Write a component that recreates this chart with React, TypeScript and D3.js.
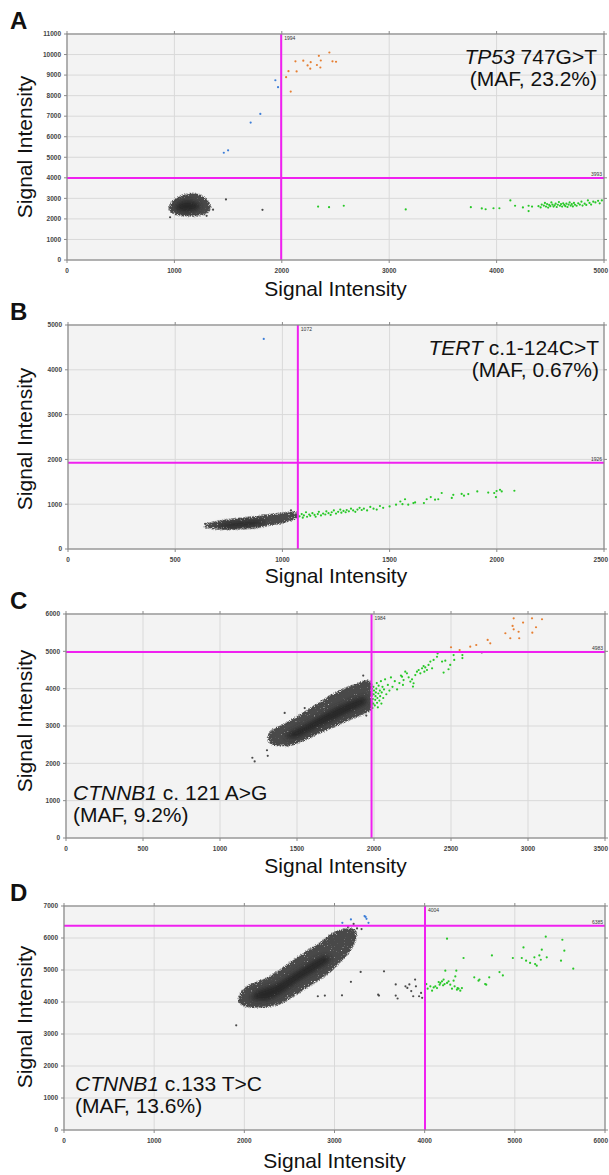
import React from "react";
import * as d3 from "d3";

type Pt = [number, number];

// ---------- Panel A: TP53 747G>T ----------
const aXTicks = [0, 1000, 2000, 3000, 4000, 5000];
const aYTicks = [0, 1000, 2000, 3000, 4000, 5000, 6000, 7000, 8000, 9000, 10000, 11000];
const aCut: Pt = [1994, 3993];
const aBlob: Pt[] = [[945, 2450], [960, 2720], [1005, 2970], [1080, 3170], [1160, 3250], [1235, 3170], [1295, 2990], [1330, 2750], [1340, 2480], [1305, 2270], [1230, 2150], [1140, 2120], [1050, 2160], [980, 2270]];
const aCore: Pt[] = [[1000, 2550], [1040, 2780], [1110, 2900], [1190, 2840], [1240, 2650], [1210, 2430], [1120, 2330], [1040, 2390]];
const aGray: Pt[] = [[960, 2080], [1480, 2950], [1820, 2440], [1360, 2450], [1300, 2150]];
const aBlue: Pt[] = [[1460, 5220], [1500, 5340], [1710, 6690], [1800, 7110], [1940, 8750], [1965, 8410]];
const aOrange: Pt[] = [[2040, 8900], [2062, 9190], [2083, 8200], [2127, 9670], [2138, 9180], [2200, 9700], [2240, 9470], [2269, 9630], [2265, 9310], [2345, 9940], [2327, 9490], [2363, 9710], [2359, 9370], [2443, 10100], [2472, 9670], [2505, 9650]];
const aGreen: Pt[] = [[2338, 2600], [2440, 2570], [2577, 2640], [3154, 2460], [3760, 2570], [3862, 2510], [3898, 2470], [3971, 2520], [4026, 2520], [4128, 2900], [4172, 2640], [4245, 2560], [4298, 2640], [4298, 2380], [4330, 2600],
  [4390, 2620], [4410, 2560], [4420, 2700], [4440, 2650], [4450, 2780], [4460, 2600], [4470, 2720], [4480, 2550], [4490, 2680], [4500, 2620], [4510, 2800], [4520, 2700], [4530, 2600], [4540, 2660], [4550, 2740], [4560, 2580], [4570, 2690], [4580, 2820], [4590, 2640], [4600, 2720], [4610, 2600], [4620, 2760], [4630, 2680], [4640, 2620], [4650, 2740], [4660, 2580], [4670, 2700], [4680, 2800], [4690, 2650], [4700, 2720], [4710, 2610], [4720, 2780], [4730, 2690], [4745, 2640], [4760, 2760], [4775, 2700], [4790, 2840], [4800, 2650], [4820, 2740], [4835, 2680], [4850, 2900], [4865, 2780], [4880, 2700], [4900, 2840], [4920, 2800], [4945, 2880], [4960, 2760], [4980, 2900]];

// ---------- Panel B: TERT c.1-124C>T ----------
const bXTicks = [0, 500, 1000, 1500, 2000, 2500];
const bYTicks = [0, 1000, 2000, 3000, 4000, 5000];
const bCut: Pt = [1072, 1926];
const bBlob: Pt[] = [[625, 520], [655, 580], [700, 625], [780, 675], [860, 720], [940, 770], [1010, 810], [1060, 830], [1078, 760], [1060, 670], [1000, 580], [920, 510], [840, 460], [760, 435], [690, 440], [640, 475]];
const bCore: Pt[] = [[690, 520], [740, 580], [820, 620], [900, 640], [930, 600], [880, 530], [800, 490], [720, 480]];
const bGray: Pt[] = [[640, 560], [1040, 860]];
const bBlue: Pt[] = [[913, 4690]];
const bOrange: Pt[] = [];
const bGreen: Pt[] = [[1080, 730], [1090, 780], [1095, 700], [1100, 750], [1110, 820], [1115, 720], [1125, 770], [1130, 740], [1140, 800], [1150, 760], [1155, 720], [1165, 780], [1170, 830], [1180, 750], [1190, 790], [1200, 770], [1205, 840], [1215, 800], [1225, 760], [1230, 820], [1240, 860], [1250, 790], [1260, 830], [1270, 880], [1275, 810], [1285, 850], [1295, 820], [1300, 870], [1310, 840], [1320, 900], [1330, 860], [1340, 830], [1350, 880], [1360, 920], [1370, 870], [1380, 900], [1395, 860], [1410, 940], [1425, 900], [1440, 880], [1455, 960], [1470, 920], [1500, 950], [1530, 990], [1550, 1060], [1560, 1000],
  [1572, 1110], [1587, 990], [1611, 1025], [1619, 1040], [1660, 1025], [1673, 1110], [1692, 1160], [1712, 1100], [1727, 1110], [1743, 1250], [1790, 1140], [1797, 1210], [1836, 1230], [1847, 1190], [1867, 1225], [1909, 1285], [1960, 1260], [1988, 1250], [1999, 1295], [1996, 1160], [2015, 1320], [2023, 1285], [2082, 1300]];

// ---------- Panel C: CTNNB1 c.121 A>G ----------
const cXTicks = [0, 500, 1000, 1500, 2000, 2500, 3000, 3500];
const cYTicks = [0, 1000, 2000, 3000, 4000, 5000, 6000];
const cCut: Pt = [1984, 4983];
const cBlob: Pt[] = [[1310, 2650], [1330, 2880], [1410, 3040], [1490, 3230], [1570, 3430], [1650, 3650], [1730, 3850], [1810, 4010], [1890, 4130], [1955, 4230], [1985, 4150], [1985, 3450], [1940, 3330], [1860, 3200], [1780, 3050], [1700, 2900], [1620, 2760], [1540, 2600], [1460, 2480], [1380, 2470], [1325, 2520]];
const cCore: Pt[] = [[1420, 2700], [1470, 2870], [1560, 3050], [1660, 3280], [1760, 3500], [1860, 3680], [1940, 3780], [1950, 3600], [1880, 3450], [1780, 3250], [1680, 3050], [1580, 2850], [1500, 2680]];
const cGray: Pt[] = [[1210, 2150], [1225, 2050], [1310, 2200], [1305, 2350], [1550, 3480], [1930, 4350], [1950, 3280], [2700, 4970], [1420, 3350]];
const cBlue: Pt[] = [];
const cOrange: Pt[] = [[2500, 5110], [2556, 5035], [2625, 5125], [2664, 5170], [2738, 5305], [2755, 5215], [2853, 5485], [2885, 5350], [2900, 5680], [2907, 5885], [2907, 5590], [2939, 5525], [2943, 5350], [2968, 5770], [3026, 5885], [3028, 5500], [3052, 5645], [3091, 5860]];
const cGreen: Pt[] = [[1990, 3480], [1995, 3600], [1992, 3720], [1998, 3850], [2000, 3950], [1996, 4050], [2005, 3550], [2008, 3700], [2010, 3800], [2012, 3900], [2015, 4000], [2018, 4150], [2020, 3620], [2022, 3750], [2025, 3500], [2028, 3870], [2030, 4080], [2035, 3680], [2038, 3950], [2040, 3800], [2045, 4200], [2048, 3600], [2050, 3900], [2055, 4050], [2060, 3750], [2065, 3980], [2072, 4250], [2080, 3850], [2090, 4100], [2100, 3950], [2110, 4300], [2120, 4050], [2135, 4200], [2150, 3980], [2165, 4150], [2175, 4350],
  [2182, 4320], [2192, 4230], [2203, 4455], [2214, 4410], [2188, 4100], [2225, 4305], [2236, 4190], [2247, 4250], [2257, 4145], [2253, 4055], [2268, 4365], [2279, 4455], [2290, 4500], [2301, 4410], [2312, 4545], [2322, 4605], [2327, 4455], [2333, 4570], [2344, 4500], [2354, 4635], [2366, 4725], [2377, 4545], [2387, 4770], [2409, 4855], [2413, 4945], [2442, 4725], [2452, 4430], [2463, 4750], [2484, 4520], [2495, 4635], [2517, 4900], [2521, 4770], [2574, 4900], [2574, 4820]];

// ---------- Panel D: CTNNB1 c.133 T>C ----------
const dXTicks = [0, 1000, 2000, 3000, 4000, 5000, 6000];
const dYTicks = [0, 1000, 2000, 3000, 4000, 5000, 6000, 7000];
const dCut: Pt = [4004, 6385];
const dBlob: Pt[] = [[1930, 4000], [1970, 4350], [2080, 4560], [2280, 4800], [2480, 5180], [2640, 5500], [2800, 5780], [2980, 6150], [3120, 6300], [3240, 6250], [3230, 5900], [3170, 5580], [3050, 5200], [2920, 4860], [2750, 4540], [2570, 4230], [2400, 3940], [2200, 3830], [2020, 3850]];
const dCore: Pt[] = [[2080, 4100], [2150, 4350], [2350, 4550], [2550, 4900], [2750, 5250], [2900, 5450], [2950, 5300], [2800, 5000], [2600, 4650], [2400, 4250], [2250, 4050]];
const dGray: Pt[] = [[1910, 3270], [2815, 4180], [2893, 4200], [3083, 4210], [3182, 4630], [3290, 4940], [3484, 4230], [3493, 4200], [3549, 4960], [3679, 4550], [3700, 4110], [3787, 4490], [3808, 4440], [3830, 4550], [3851, 4340], [3873, 4180], [3894, 4700], [3903, 4490], [3938, 4180], [3960, 4285], [3972, 4130], [3679, 4200], [3212, 6440], [3250, 6300], [3150, 6350], [3300, 6280]];
const dBlue: Pt[] = [[3087, 6475], [3182, 6580], [3333, 6684], [3355, 6600], [3377, 6475], [3345, 6660]];
const dOrange: Pt[] = [];
const dGreen: Pt[] = [[4019, 4560], [4033, 4415], [4063, 4490], [4082, 4355], [4100, 4455], [4118, 4490], [4137, 4435], [4155, 4625], [4166, 4540], [4174, 4595], [4192, 4645], [4204, 4520], [4210, 4700], [4221, 4560], [4229, 4980], [4248, 4595], [4265, 4645], [4248, 5980], [4284, 4540], [4303, 4415], [4321, 4665], [4332, 4490], [4340, 4800], [4351, 4980], [4358, 4385], [4365, 4435], [4376, 4415], [4395, 4355], [4413, 4435], [4431, 5375], [4550, 4770], [4597, 4665], [4608, 4700], [4671, 4560], [4683, 4540], [4716, 4770], [4746, 5455], [4830, 4935], [4867, 4830], [4978, 5375], [5077, 5375], [5096, 5705], [5125, 5290], [5169, 5220], [5217, 5395], [5225, 5185], [5243, 5135], [5272, 5455], [5288, 5320], [5299, 5635], [5343, 6040], [5354, 5395], [5512, 5290], [5527, 5945], [5549, 5605], [5648, 5040]];

const GRAY = "#4a4a4a";
const BLUE = "#3d7ed8";
const ORANGE = "#e67f32";
const GREEN = "#28c828";
const MAGENTA = "#f020f0";

const panels = [
  { id: "A", box: { l: 67, r: 604, t: 34, b: 260 }, xTicks: aXTicks, yTicks: aYTicks, cut: aCut, blob: aBlob, core: aCore, gray: aGray, blue: aBlue, orange: aOrange, green: aGreen,
    gene: "TP53", rest: " 747G>T", maf: "(MAF, 23.2%)", noteAnchor: "end", noteX: 597, noteY: 64, xLabY: 296, yLabShift: 0 },
  { id: "B", box: { l: 68, r: 604, t: 325, b: 549 }, xTicks: bXTicks, yTicks: bYTicks, cut: bCut, blob: bBlob, core: bCore, gray: bGray, blue: bBlue, orange: bOrange, green: bGreen,
    gene: "TERT", rest: " c.1-124C>T", maf: "(MAF, 0.67%)", noteAnchor: "end", noteX: 599, noteY: 355, xLabY: 583, yLabShift: 2 },
  { id: "C", box: { l: 66, r: 605, t: 614, b: 838 }, xTicks: cXTicks, yTicks: cYTicks, cut: cCut, blob: cBlob, core: cCore, gray: cGray, blue: cBlue, orange: cOrange, green: cGreen,
    gene: "CTNNB1", rest: " c. 121 A>G", maf: "(MAF, 9.2%)", noteAnchor: "start", noteX: 73, noteY: 800, xLabY: 873, yLabShift: -5 },
  { id: "D", box: { l: 64, r: 605, t: 906, b: 1130 }, xTicks: dXTicks, yTicks: dYTicks, cut: dCut, blob: dBlob, core: dCore, gray: dGray, blue: dBlue, orange: dOrange, green: dGreen,
    gene: "CTNNB1", rest: " c.133 T>C", maf: "(MAF, 13.6%)", noteAnchor: "start", noteX: 75, noteY: 1091, xLabY: 1168, yLabShift: -1 },
];

const SANS = "Liberation Sans, Arial, Helvetica, sans-serif";
const W = 609;

function Panel({ p }: { p: (typeof panels)[number] }) {
  const { l, r, t, b } = p.box;
  const x = d3.scaleLinear().domain([0, p.xTicks[p.xTicks.length - 1]]).range([l, r]);
  const y = d3.scaleLinear().domain([0, p.yTicks[p.yTicks.length - 1]]).range([b, t]);
  const blobPath = d3.line<Pt>().x((d) => x(d[0])).y((d) => y(d[1])).curve(d3.curveCardinalClosed.tension(0.3));
  const dots = (pts: Pt[], color: string, key: string) =>
    pts.map((d, i) => <circle key={key + i} cx={x(d[0])} cy={y(d[1])} r={1.1} fill={color} />);
  const cx = x(p.cut[0]);
  const cy = y(p.cut[1]);
  return (
    <g>
      <text x={10} y={t - 5} fontSize={24} fontWeight="bold" fontFamily={SANS} fill="#111">{p.id}</text>
      <rect x={l} y={t} width={r - l} height={b - t} fill="#f3f3f3" />
      {p.xTicks.map((v) => (
        <line key={"gx" + v} x1={x(v)} x2={x(v)} y1={t} y2={b} stroke="#d9d9d9" strokeWidth={1} />
      ))}
      {p.yTicks.map((v) => (
        <line key={"gy" + v} x1={l} x2={r} y1={y(v)} y2={y(v)} stroke="#d9d9d9" strokeWidth={1} />
      ))}
      <g clipPath={`url(#clip${p.id})`}>
        <path d={blobPath(p.blob) || ""} fill="#555" filter="url(#grain)" />
        <path d={blobPath(p.core) || ""} fill="#262626" filter="url(#softer)" />
        {dots(p.gray, GRAY, "g")}
        {dots(p.green, GREEN, "n")}
        {dots(p.blue, BLUE, "b")}
        {dots(p.orange, ORANGE, "o")}
      </g>
      <line x1={cx} x2={cx} y1={t} y2={b} stroke={MAGENTA} strokeWidth={2} />
      <line x1={l} x2={r} y1={cy} y2={cy} stroke={MAGENTA} strokeWidth={2} />
      <text x={cx + 3} y={t + 6} fontSize={5} fontFamily={SANS} fill="#333">{p.cut[0]}</text>
      <text x={r - 2} y={cy - 2} fontSize={5} fontFamily={SANS} fill="#333" textAnchor="end">{p.cut[1]}</text>
      <rect x={l} y={t} width={r - l} height={b - t} fill="none" stroke="#8a8a8a" strokeWidth={1.2} />
      {p.xTicks.map((v) => {
        const tx = x(v);
        const atEdge = tx + 9 > W;
        return (
          <g key={"tx" + v}>
            <line x1={tx} x2={tx} y1={b} y2={b + 3} stroke="#8a8a8a" />
            <line x1={tx} x2={tx} y1={t} y2={t - 3} stroke="#8a8a8a" />
            <text x={atEdge ? W - 1 : tx} y={b + 13} fontSize={6.5} fontWeight="bold" fontFamily={SANS} fill="#444"
              textAnchor={atEdge ? "end" : "middle"}>{v}</text>
          </g>
        );
      })}
      {p.yTicks.map((v) => (
        <g key={"ty" + v}>
          <line x1={l - 3} x2={l} y1={y(v)} y2={y(v)} stroke="#8a8a8a" />
          <line x1={r} x2={r + 3} y1={y(v)} y2={y(v)} stroke="#8a8a8a" />
          <text x={l - 6} y={y(v) + 2.3} fontSize={6.5} fontWeight="bold" fontFamily={SANS} fill="#444" textAnchor="end">{v}</text>
        </g>
      ))}
      <text x={(l + r) / 2} y={p.xLabY} fontSize={21} fontFamily={SANS} fill="#111" textAnchor="middle">Signal Intensity</text>
      <text transform={`translate(32,${(t + b) / 2 + p.yLabShift}) rotate(-90)`} fontSize={21} fontFamily={SANS} fill="#111" textAnchor="middle">Signal Intensity</text>
      <text x={p.noteX} y={p.noteY} fontSize={21} fontFamily={SANS} fill="#111" textAnchor={p.noteAnchor}>
        <tspan fontStyle="italic">{p.gene}</tspan>{p.rest}
      </text>
      <text x={p.noteX} y={p.noteY + 22} fontSize={21} fontFamily={SANS} fill="#111" textAnchor={p.noteAnchor}>{p.maf}</text>
    </g>
  );
}

export default function App() {
  return (
    <svg width={W} height={1175} style={{ position: "absolute", left: 0, top: 0, background: "#fff" }}>
      <defs>
        <filter id="grain" x="-20%" y="-20%" width="140%" height="140%">
          <feGaussianBlur in="SourceAlpha" stdDeviation={2} result="b" />
          <feTurbulence type="fractalNoise" baseFrequency={1.3} numOctaves={1} seed={4} result="n" />
          <feComposite in="b" in2="n" operator="arithmetic" k1={1} k2={0} k3={0} k4={0} result="m" />
          <feComponentTransfer in="m" result="t">
            <feFuncA type="linear" slope={6} intercept={-0.9} />
          </feComponentTransfer>
          <feFlood floodColor="#4a4a4a" result="c" />
          <feComposite in="c" in2="t" operator="in" />
        </filter>
        <filter id="softer" x="-30%" y="-30%" width="160%" height="160%">
          <feGaussianBlur stdDeviation={2.5} />
        </filter>
        {panels.map((p) => (
          <clipPath key={"c" + p.id} id={"clip" + p.id}>
            <rect x={p.box.l} y={p.box.t} width={p.box.r - p.box.l} height={p.box.b - p.box.t} />
          </clipPath>
        ))}
      </defs>
      {panels.map((p) => (
        <Panel key={p.id} p={p} />
      ))}
    </svg>
  );
}
